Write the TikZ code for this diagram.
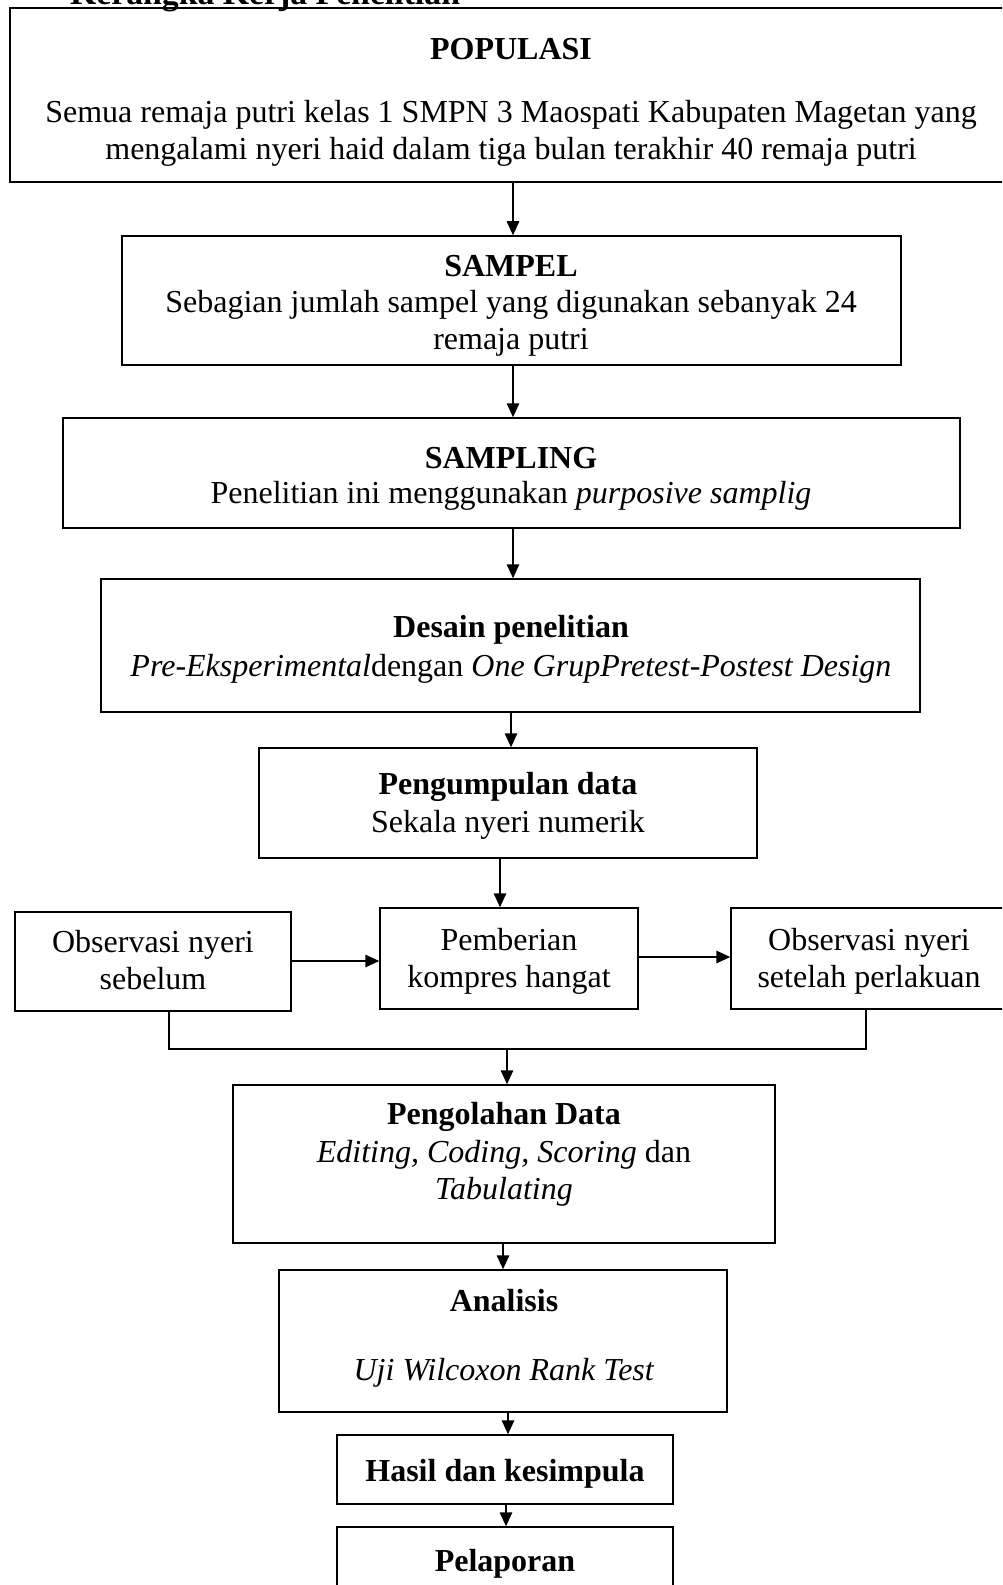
\documentclass[tikz,border=0pt]{standalone}
\usepackage{fontspec}
\setmainfont{Liberation Serif}
\usetikzlibrary{arrows.meta,fit}
\begin{document}
\begin{tikzpicture}[x=0.4pt,y=-0.4pt,
  box/.style={draw, line width=0.6pt, inner sep=0pt, rectangle},
  txt/.style={align=center, inner sep=0pt, font=\fontsize{12.8}{14.7}\selectfont},
  arr/.style={line width=0.6pt, -{Triangle[length=5.6pt,width=5pt]}}]
\useasboundingbox (0,0) rectangle (1002,1585);
\clip (0,0) rectangle (1002,1585);
\fill[white] (0,0) rectangle (1002,1585);

\node[txt, anchor=base, font=\fontsize{13.5}{15}\selectfont] (title) at (265,5) {\textbf{Kerangka Kerja Penelitian}};

% boxes
\node[box, fit={(10,8)(1010,182)}] (pop) {};
\node[box, fit={(122,236)(901,365)}] (samp) {};
\node[box, fit={(63,418)(960,528)}] (sampling) {};
\node[box, fit={(101,579)(920,712)}] (desain) {};
\node[box, fit={(259,748)(757,858)}] (kumpul) {};
\node[box, fit={(15,912)(291,1011)}] (obs1) {};
\node[box, fit={(380,908)(638,1009)}] (treat) {};
\node[box, fit={(731,908)(1010,1009)}] (obs2) {};
\node[box, fit={(233,1085)(775,1243)}] (olah) {};
\node[box, fit={(279,1270)(727,1412)}] (anal) {};
\node[box, fit={(337,1435)(673,1504)}] (hasil) {};
\node[box, fit={(337,1527)(673,1600)}] (lapor) {};

% texts
\node[txt] (popH) at (511,49) {\textbf{POPULASI}};
\node[txt] (popB) at (511,133) {Semua remaja putri kelas 1 SMPN 3 Maospati Kabupaten Magetan yang\\mengalami nyeri haid dalam tiga bulan terakhir 40 remaja putri};
\node[txt] (sampH) at (511,266) {\textbf{SAMPEL}};
\node[txt] (sampB) at (511,323) {Sebagian jumlah sampel yang digunakan sebanyak 24\\remaja putri};
\node[txt] (samplingH) at (511,458) {\textbf{SAMPLING}};
\node[txt] (samplingB) at (511,496) {Penelitian ini menggunakan \textit{purposive samplig}};
\node[txt] (desainH) at (511,630) {\textbf{Desain penelitian}};
\node[txt] (desainB) at (511,669) {\textit{Pre-Eksperimental}dengan \textit{One GrupPretest-Postest Design}};
\node[txt] (kumpulH) at (508,787) {\textbf{Pengumpulan data}};
\node[txt] (kumpulB) at (508,825) {Sekala nyeri numerik};
\node[txt] (obs1T) at (153,960) {Observasi nyeri\\sebelum};
\node[txt] (treatT) at (509,961) {Pemberian\\kompres hangat};
\node[txt] (obs2T) at (869,961) {Observasi nyeri\\setelah perlakuan};
\node[txt] (olahH) at (504,1117) {\textbf{Pengolahan Data}};
\node[txt] (olahB) at (504,1173) {\textit{Editing, Coding, Scoring} dan\\\textit{Tabulating}};
\node[txt] (analH) at (504,1301) {\textbf{Analisis}};
\node[txt] (analB) at (504,1373) {\textit{Uji Wilcoxon Rank Test}};
\node[txt] (hasilT) at (505,1474) {\textbf{Hasil dan kesimpula}};
\node[txt] (laporT) at (505,1564) {\textbf{Pelaporan}};

% connectors
\draw[arr] (pop.south -| 513,0) -- (samp.north -| 513,0);
\draw[arr] (samp.south -| 513,0) -- (sampling.north -| 513,0);
\draw[arr] (sampling.south -| 513,0) -- (desain.north -| 513,0);
\draw[arr] (desain.south -| 511,0) -- (kumpul.north -| 511,0);
\draw[arr] (kumpul.south -| 500,0) -- (treat.north -| 500,0);
\draw[arr] (obs1.east |- 0,961) -- (treat.west |- 0,961);
\draw[arr] (treat.east |- 0,957) -- (obs2.west |- 0,957);
\coordinate (jn) at (507,1049);
\draw[line width=0.6pt] (obs1.south -| 169,0) |- (jn) -| (obs2.south -| 866,0);
\draw[arr] (jn) -- (olah.north -| jn);
\draw[arr] (olah.south -| 503,0) -- (anal.north -| 503,0);
\draw[arr] (anal.south -| 508,0) -- (hasil.north -| 508,0);
\draw[arr] (hasil.south -| 506,0) -- (lapor.north -| 506,0);
\end{tikzpicture}
\end{document}
